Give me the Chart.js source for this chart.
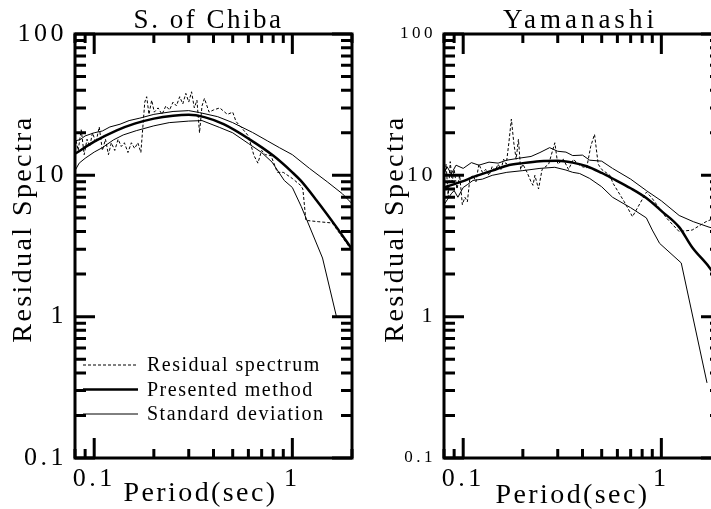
<!DOCTYPE html>
<html>
<head>
<meta charset="utf-8">
<script src="https://cdn.jsdelivr.net/npm/chart.js@4.4.0/dist/chart.umd.min.js"></script>
<style>
  html, body { margin:0; padding:0; background:#fff; }
  body { width:711px; height:509px; overflow:hidden; position:relative; }
  canvas { position:absolute; top:0; }
  #chiba { left:0; }
  #yamanashi { left:369px; }
</style>
</head>
<body>
<canvas id="chiba" width="368" height="509"></canvas>
<canvas id="yamanashi" width="368" height="509"></canvas>
<script>
// axes (period in sec, log-log)
const xTicks = [0.08, 0.09, 0.1, 0.2, 0.3, 0.4, 0.5, 0.6, 0.7, 0.8, 0.9, 1, 2];
const xLabels = [0.1, 1];
const yTicks = [0.1, 0.2, 0.3, 0.4, 0.5, 0.6, 0.7, 0.8, 0.9, 1, 2, 3, 4, 5, 6, 7, 8, 9,
                10, 20, 30, 40, 50, 60, 70, 80, 90, 100];
const yLabels = [0.1, 1, 10, 100];

// S. of Chiba
const chibaResT = [0.080, 0.083, 0.086, 0.089, 0.092, 0.095, 0.098, 0.102, 0.106, 0.110, 0.114, 0.118, 0.122,
  0.127, 0.132, 0.137, 0.142, 0.148, 0.154, 0.160, 0.166, 0.172, 0.176, 0.180, 0.184, 0.189, 0.195, 0.201,
  0.21, 0.22, 0.23, 0.24, 0.25, 0.26, 0.27, 0.28, 0.29, 0.30, 0.31, 0.32, 0.33, 0.34, 0.35, 0.36, 0.38,
  0.40, 0.43, 0.47, 0.50, 0.52, 0.55, 0.60, 0.64, 0.67, 0.70, 0.73, 0.78, 0.84, 0.90, 1.0, 1.1, 1.13,
  1.17, 1.35, 1.59, 1.94, 2.0];
const chibaRes = [19, 15, 21, 14, 18, 16, 20, 17, 22, 15, 18, 14, 17,
  15, 18, 16, 17, 14.5, 17, 15.5, 17, 14.5, 22, 33, 36, 27, 34, 28,
  30, 27, 31, 29, 33, 31, 36, 32, 38, 33, 39, 30, 34, 20, 31, 35, 28,
  29, 30, 27, 28, 24, 22, 19, 13.8, 12.2, 15, 14, 13.8, 10.5, 10.5, 9.5, 8.5, 8.0,
  4.8, 4.7, 4.6, 3.1, 3.0];
const chibaPreT = [0.08, 0.1, 0.13, 0.16, 0.2, 0.25, 0.3, 0.36, 0.45, 0.6, 0.8, 1.0, 1.1, 1.32, 1.67, 2.0];
const chibaPre = [14.2, 17.3, 20.8, 23.2, 25.2, 26.4, 26.8, 25.8, 23.0, 18.2, 13.8, 10.5, 9.2, 6.7, 4.3, 3.0];
const chibaUpT = [0.08, 0.085, 0.09, 0.1, 0.11, 0.12, 0.135, 0.15, 0.17, 0.2, 0.25, 0.3, 0.34, 0.42, 0.5,
  0.63, 0.75, 0.86, 1.0, 1.22, 1.5, 1.79, 2.0];
const chibaUp = [17.5, 17.9, 19.0, 20.0, 20.6, 22.0, 23.0, 24.4, 25.4, 27.0, 28.3, 28.7, 27.8, 26.0, 23.6,
  20.1, 17.5, 15.7, 14.0, 11.2, 9.0, 7.4, 6.3];
const chibaLoT = [0.08, 0.084, 0.09, 0.1, 0.11, 0.125, 0.14, 0.163, 0.2, 0.239, 0.3, 0.35, 0.43, 0.5,
  0.6, 0.7, 0.79, 0.91, 1.0, 1.11, 1.42, 1.67];
const chibaLo = [10.8, 12.2, 13.2, 14.6, 15.7, 17.8, 19.3, 20.7, 22.4, 23.6, 24.2, 24.4, 21.8, 20.0,
  16.8, 14.5, 12.4, 9.2, 8.2, 6.0, 2.6, 1.0];

// Yamanashi
const yamaResT = [0.080, 0.082, 0.084, 0.086, 0.088, 0.090, 0.093, 0.096, 0.099, 0.102, 0.105, 0.108,
  0.112, 0.116, 0.12, 0.125, 0.13, 0.135, 0.14, 0.145, 0.15, 0.155, 0.16, 0.165, 0.17, 0.175, 0.18,
  0.185, 0.19, 0.195, 0.20, 0.21, 0.22, 0.225, 0.23, 0.24, 0.25, 0.27, 0.29, 0.30, 0.32, 0.34, 0.36,
  0.38, 0.40, 0.42, 0.44, 0.46, 0.48, 0.50, 0.55, 0.57, 0.65, 0.715, 0.84, 0.89, 1.06, 1.23, 1.43,
  1.68, 2.0];
const yamaRes = [9, 12, 7, 12.5, 9, 11, 8, 10, 6.2, 7, 6.5, 9.5,
  10, 9, 12, 10.5, 11, 10, 11.5, 10.8, 12, 11, 13, 12, 17, 25, 17,
  13, 18, 11, 12, 10.5, 9, 8.5, 10, 8, 11, 12, 17, 12, 13, 11, 13,
  12, 11.5, 11.3, 16, 19.5, 12, 11, 10, 8.8, 6.5, 5.1, 7.6, 7.0, 5.0, 4.0, 4.1,
  4.7, 5.2];
const yamaPreT = [0.08, 0.1, 0.112, 0.14, 0.166, 0.2, 0.244, 0.3, 0.357, 0.42, 0.5, 0.567, 0.7, 0.84,
  1.0, 1.23, 1.43, 1.74, 2.0];
const yamaPre = [8.2, 9.1, 9.7, 10.8, 11.7, 12.2, 12.6, 12.7, 12.3, 11.6, 10.4, 9.5, 8.1, 6.9,
  5.6, 4.3, 3.1, 2.25, 1.7];
const yamaUpT = [0.08, 0.083, 0.087, 0.092, 0.1, 0.11, 0.12, 0.135, 0.15, 0.166, 0.19, 0.22, 0.244, 0.273,
  0.3, 0.33, 0.357, 0.4, 0.435, 0.5, 0.567, 0.7, 0.84, 1.0, 1.23, 1.45, 1.74, 2.0];
const yamaUp = [10.5, 11.5, 10.2, 11.8, 11.2, 12.3, 11.8, 12.4, 12.2, 12.8, 13.2, 13.6, 14.5, 15.7,
  14.8, 14.6, 13.8, 13.9, 12.8, 12.6, 11.2, 9.4, 7.8, 6.6, 5.2, 4.7, 4.3, 4.1];
const yamaLoT = [0.08, 0.083, 0.087, 0.09, 0.094, 0.1, 0.105, 0.112, 0.125, 0.14, 0.166, 0.2, 0.244,
  0.29, 0.33, 0.357, 0.387, 0.435, 0.5, 0.567, 0.7, 0.84, 0.9, 0.98, 1.26, 1.7];
const yamaLo = [6.2, 6.7, 7.4, 7.8, 7.0, 8.2, 8.6, 9.2, 9.4, 10.0, 10.5, 10.8, 11.2,
  11.4, 10.9, 10.5, 10.3, 9.5, 8.3, 7.0, 5.9, 5.0, 4.1, 3.3, 2.4, 0.34];

const SERIF = "'Liberation Serif', 'Times New Roman', serif";
const pts = (t, v) => t.map((x, i) => ({ x, y: v[i] }));

// frame + inward ticks on all four sides
const frameTicks = {
  id: 'frameTicks',
  afterDatasetsDraw(chart) {
    const { ctx, chartArea: a, scales: { x, y } } = chart;
    ctx.save();
    ctx.strokeStyle = '#000';
    ctx.lineWidth = 3;
    ctx.setLineDash([]);
    ctx.beginPath();
    x.ticks.forEach(t => {
      const px = x.getPixelForValue(t.value);
      const len = xLabels.includes(t.value) ? 20 : 9;
      ctx.moveTo(px, a.bottom); ctx.lineTo(px, a.bottom - len);
      ctx.moveTo(px, a.top); ctx.lineTo(px, a.top + len);
    });
    y.ticks.forEach(t => {
      const py = y.getPixelForValue(t.value);
      const len = yLabels.includes(t.value) ? 20 : 11;
      ctx.moveTo(a.left, py); ctx.lineTo(a.left + len, py);
      ctx.moveTo(a.right, py); ctx.lineTo(a.right - len, py);
    });
    ctx.stroke();
    ctx.strokeRect(a.left, a.top, a.right - a.left, a.bottom - a.top);
    ctx.restore();
  }
};

// spaced-out serif tick labels like the original plot
const spacing = {
  id: 'spacing',
  beforeDraw(chart) { chart.ctx.letterSpacing = '3.5px'; },
  afterDraw(chart) { chart.ctx.letterSpacing = '0px'; }
};

// panel title + axis titles
const axisText = {
  id: 'axisText',
  afterDraw(chart, args, o) {
    const { ctx, chartArea: a } = chart;
    const cx = (a.left + a.right) / 2;
    ctx.save();
    ctx.fillStyle = '#000';
    ctx.textAlign = 'center';
    ctx.textBaseline = 'middle';
    ctx.font = o.titleSize + 'px ' + SERIF;
    ctx.letterSpacing = o.titleSpacing + 'px';
    ctx.fillText(o.title, cx + o.titleShift, a.top - 13);
    ctx.font = '28px ' + SERIF;
    ctx.letterSpacing = '2.4px';
    ctx.fillText(o.xTitle, cx + o.xShift, a.bottom + o.xDrop);
    ctx.translate(o.yAt, (a.top + a.bottom) / 2 + o.yShift);
    ctx.rotate(-Math.PI / 2);
    ctx.fillText(o.yTitle, 0, 0);
    ctx.restore();
  }
};

const legendBox = {
  id: 'legendBox',
  afterDraw(chart, args, o) {
    if (!o.show) return;
    const { ctx, chartArea: a } = chart;
    ctx.save();
    ctx.font = '20px ' + SERIF;
    ctx.letterSpacing = '1.5px';
    ctx.textBaseline = 'middle';
    ctx.fillStyle = '#000';
    chart.data.datasets.filter(d => d.label).forEach((d, i) => {
      const yy = a.top + o.top + i * o.gap;
      ctx.strokeStyle = d.borderColor;
      ctx.lineWidth = d.borderWidth;
      ctx.setLineDash(d.borderDash || []);
      ctx.beginPath(); ctx.moveTo(a.left + 8, yy); ctx.lineTo(a.left + 63, yy); ctx.stroke();
      ctx.fillText(d.label, a.left + 72, yy + 1);
    });
    ctx.restore();
  }
};

function makePanel(canvasId, p) {
  const el = document.getElementById(canvasId);
  return new Chart(el, {
    type: 'line',
    data: {
      datasets: [
        { label: 'Residual spectrum', data: pts(p.resT, p.res), borderColor: '#000', borderWidth: 1, borderDash: [3, 2] },
        { label: 'Presented method', data: pts(p.preT, p.pre), borderColor: '#000', borderWidth: 2.5, cubicInterpolationMode: 'monotone' },
        { label: 'Standard deviation', data: pts(p.upT, p.up), borderColor: '#000', borderWidth: 1 },
        { label: '', data: pts(p.loT, p.lo), borderColor: '#000', borderWidth: 1 }
      ]
    },
    options: {
      responsive: false, animation: false,
      elements: { point: { radius: 0 }, line: { tension: 0, fill: false } },
      layout: { padding: { top: 34, right: 16 } },
      plugins: {
        legend: { display: false }, tooltip: { enabled: false }, title: { display: false },
        axisText: { title: p.title, titleSize: 27, titleSpacing: p.titleSpacing, titleShift: p.titleShift,
          xTitle: 'Period(sec)', yTitle: 'Residual Spectra', xShift: p.xShift, xDrop: p.xDrop, yAt: p.yAt, yShift: -17 },
        legendBox: { show: p.legend, top: 331, gap: 24.5 }
      },
      scales: {
        x: {
          type: 'logarithmic', min: 0.08, max: 2,
          grid: { display: false, drawTicks: false }, border: { display: false },
          afterBuildTicks: s => { s.ticks = xTicks.map(v => ({ value: v })); },
          afterFit: s => { s.height = 51; },
          ticks: { autoSkip: false, maxRotation: 0, padding: 6, color: '#000',
            font: { family: SERIF, size: 26 },
            callback: v => xLabels.includes(v) ? String(v) : '' }
        },
        y: {
          type: 'logarithmic', min: 0.1, max: 100,
          grid: { display: false, drawTicks: false }, border: { display: false },
          afterBuildTicks: s => { s.ticks = yTicks.map(v => ({ value: v })); },
          afterFit: s => { s.width = 75; },
          ticks: { autoSkip: false, padding: 8, color: '#000',
            font: c => ({ family: SERIF, size: p.yFont(c.tick ? c.tick.value : 1) }),
            callback: v => yLabels.includes(v) ? String(v) : '' }
        }
      }
    },
    plugins: [spacing, frameTicks, axisText, legendBox]
  });
}

makePanel('chiba', {
  title: 'S. of Chiba', titleSpacing: 2.5, titleShift: -5, legend: true,
  resT: chibaResT, res: chibaRes, preT: chibaPreT, pre: chibaPre,
  upT: chibaUpT, up: chibaUp, loT: chibaLoT, lo: chibaLo,
  yFont: v => 26, xShift: -13, xDrop: 36, yAt: 24
});
makePanel('yamanashi', {
  title: 'Yamanashi', titleSpacing: 4, titleShift: -2, legend: false,
  resT: yamaResT, res: yamaRes, preT: yamaPreT, pre: yamaPre,
  upT: yamaUpT, up: yamaUp, loT: yamaLoT, lo: yamaLo,
  yFont: v => (v === 10 || v === 1) ? 22 : 17, xShift: -10, xDrop: 38, yAt: 27
});
</script>
</body>
</html>
